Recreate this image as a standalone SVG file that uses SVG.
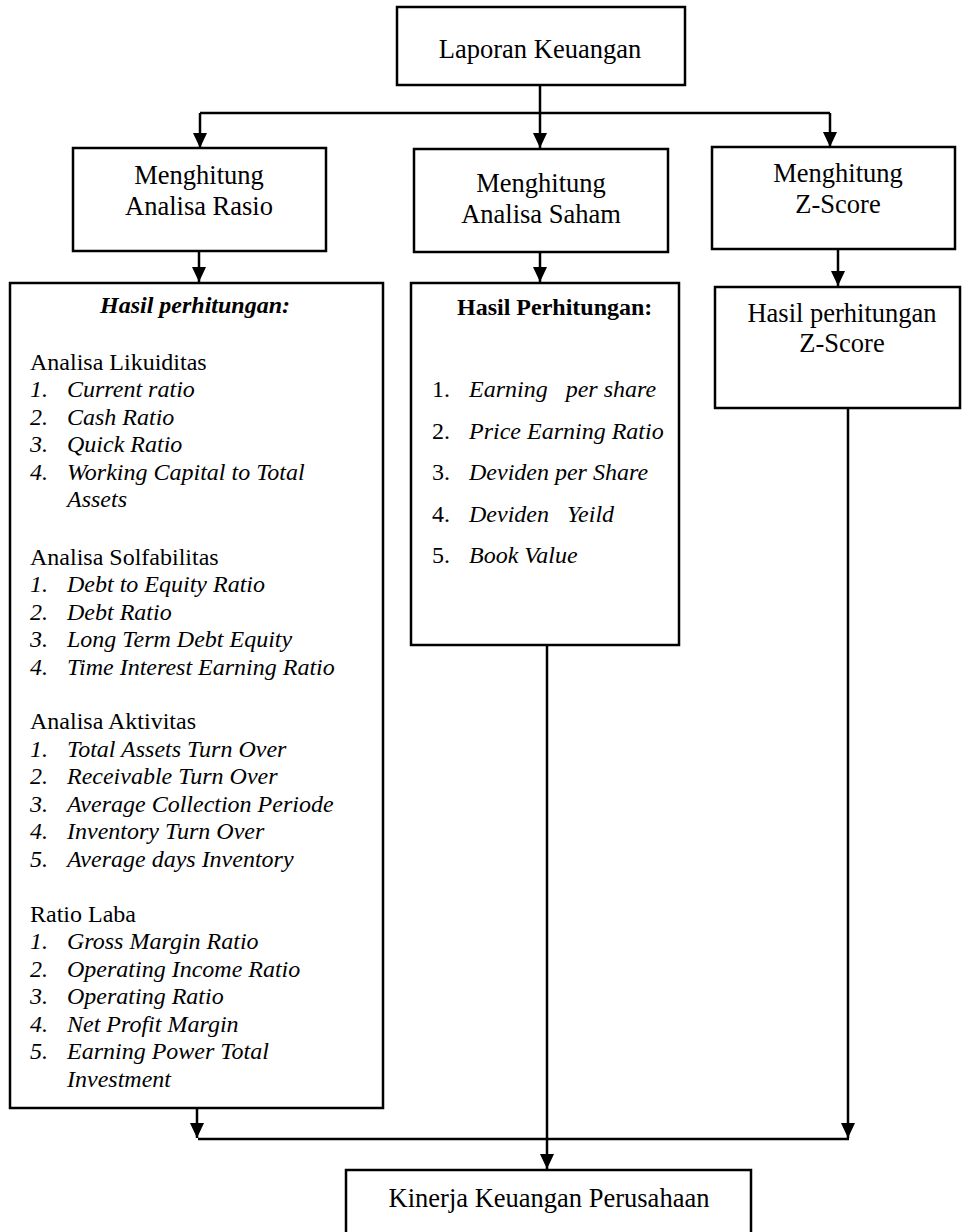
<svg xmlns="http://www.w3.org/2000/svg" width="964" height="1232" viewBox="0 0 964 1232">
<defs>
<marker id="ah" viewBox="0 0 15 14" refX="15" refY="7" markerWidth="15" markerHeight="14" markerUnits="userSpaceOnUse" orient="auto">
<path d="M0,0 L15,7 L0,14 z" fill="#000"/>
</marker>
<style>
.box{fill:#fff;stroke:#000;stroke-width:2.5}
.con{fill:none;stroke:#000;stroke-width:2.5}
.arr{fill:none;stroke:#000;stroke-width:2.5;marker-end:url(#ah)}
text{font-family:"Liberation Serif","Times New Roman",serif;fill:#000}
.t{font-size:26.5px}
.c{text-anchor:middle}
.l{font-size:24px}
.i{font-style:italic}
.b{font-weight:bold}
</style>
</defs>
<rect width="964" height="1232" fill="#fff"/>
<g id="connectors">
<path class="arr" d="M540,85 V148"/>
<path class="con" d="M200,113 H830"/>
<path class="arr" d="M200,113 V148"/>
<path class="arr" d="M830,113 V147"/>
<path class="arr" d="M199,251 V282"/>
<path class="arr" d="M540,252 V282"/>
<path class="arr" d="M838,249 V286"/>
<path class="arr" d="M547,645 V1169"/>
<path class="arr" d="M848,408 V1138"/>
<path class="arr" d="M197,1108 V1138"/>
<path class="con" d="M198,1139 H849"/>
</g>
<g id="laporan">
<rect class="box" x="397" y="7" width="288" height="78"/>
<text class="t c" x="540" y="58">Laporan Keuangan</text>
</g>
<g id="menghitung-rasio">
<rect class="box" x="73" y="148" width="253" height="103"/>
<text class="t c" x="199" y="184">Menghitung</text>
<text class="t c" x="199" y="215">Analisa Rasio</text>
</g>
<g id="menghitung-saham">
<rect class="box" x="414" y="149" width="254" height="103"/>
<text class="t c" x="541" y="192">Menghitung</text>
<text class="t c" x="541" y="223">Analisa Saham</text>
</g>
<g id="menghitung-zscore">
<rect class="box" x="712" y="147" width="243" height="102"/>
<text class="t c" x="838" y="182">Menghitung</text>
<text class="t c" x="838" y="213">Z-Score</text>
</g>
<g id="hasil-rasio">
<rect class="box" x="10" y="283" width="373" height="825"/>
<text class="l i b" x="100" y="313">Hasil perhitungan:</text>
<text class="l" x="30" y="370">Analisa Likuiditas</text>
<text class="l i" x="30" y="397">1.</text><text class="l i" x="67" y="397">Current ratio</text>
<text class="l i" x="30" y="425">2.</text><text class="l i" x="67" y="425">Cash Ratio</text>
<text class="l i" x="30" y="452">3.</text><text class="l i" x="67" y="452">Quick Ratio</text>
<text class="l i" x="30" y="480">4.</text><text class="l i" x="67" y="480">Working Capital to Total</text>
<text class="l i" x="67" y="507">Assets</text>
<text class="l" x="30" y="565">Analisa Solfabilitas</text>
<text class="l i" x="30" y="592">1.</text><text class="l i" x="67" y="592">Debt to Equity Ratio</text>
<text class="l i" x="30" y="620">2.</text><text class="l i" x="67" y="620">Debt Ratio</text>
<text class="l i" x="30" y="647">3.</text><text class="l i" x="67" y="647">Long Term Debt Equity</text>
<text class="l i" x="30" y="675">4.</text><text class="l i" x="67" y="675">Time Interest Earning Ratio</text>
<text class="l" x="30" y="729">Analisa Aktivitas</text>
<text class="l i" x="30" y="757">1.</text><text class="l i" x="67" y="757">Total Assets Turn Over</text>
<text class="l i" x="30" y="784">2.</text><text class="l i" x="67" y="784">Receivable Turn Over</text>
<text class="l i" x="30" y="812">3.</text><text class="l i" x="67" y="812">Average Collection Periode</text>
<text class="l i" x="30" y="839">4.</text><text class="l i" x="67" y="839">Inventory Turn Over</text>
<text class="l i" x="30" y="867">5.</text><text class="l i" x="67" y="867">Average days Inventory</text>
<text class="l" x="30" y="922">Ratio Laba</text>
<text class="l i" x="30" y="949">1.</text><text class="l i" x="67" y="949">Gross Margin Ratio</text>
<text class="l i" x="30" y="977">2.</text><text class="l i" x="67" y="977">Operating Income Ratio</text>
<text class="l i" x="30" y="1004">3.</text><text class="l i" x="67" y="1004">Operating Ratio</text>
<text class="l i" x="30" y="1032">4.</text><text class="l i" x="67" y="1032">Net Profit Margin</text>
<text class="l i" x="30" y="1059">5.</text><text class="l i" x="67" y="1059">Earning Power Total</text>
<text class="l i" x="67" y="1087">Investment</text>
</g>
<g id="hasil-saham">
<rect class="box" x="411" y="283" width="268" height="362"/>
<text class="l b" x="457" y="315">Hasil Perhitungan:</text>
<text class="l" x="432" y="397">1.</text><text class="l i" x="469" y="397" xml:space="preserve">Earning   per share</text>
<text class="l" x="432" y="439">2.</text><text class="l i" x="469" y="439">Price Earning Ratio</text>
<text class="l" x="432" y="480">3.</text><text class="l i" x="469" y="480">Deviden per Share</text>
<text class="l" x="432" y="522">4.</text><text class="l i" x="469" y="522" xml:space="preserve">Deviden   Yeild</text>
<text class="l" x="432" y="563">5.</text><text class="l i" x="469" y="563">Book Value</text>
</g>
<g id="hasil-zscore">
<rect class="box" x="715" y="287" width="245" height="121"/>
<text class="t c" x="842" y="322">Hasil perhitungan</text>
<text class="t c" x="842" y="352">Z-Score</text>
</g>
<g id="kinerja">
<rect class="box" x="346" y="1170" width="405" height="80"/>
<text class="t c" x="549" y="1207">Kinerja Keuangan Perusahaan</text>
</g>
</svg>
